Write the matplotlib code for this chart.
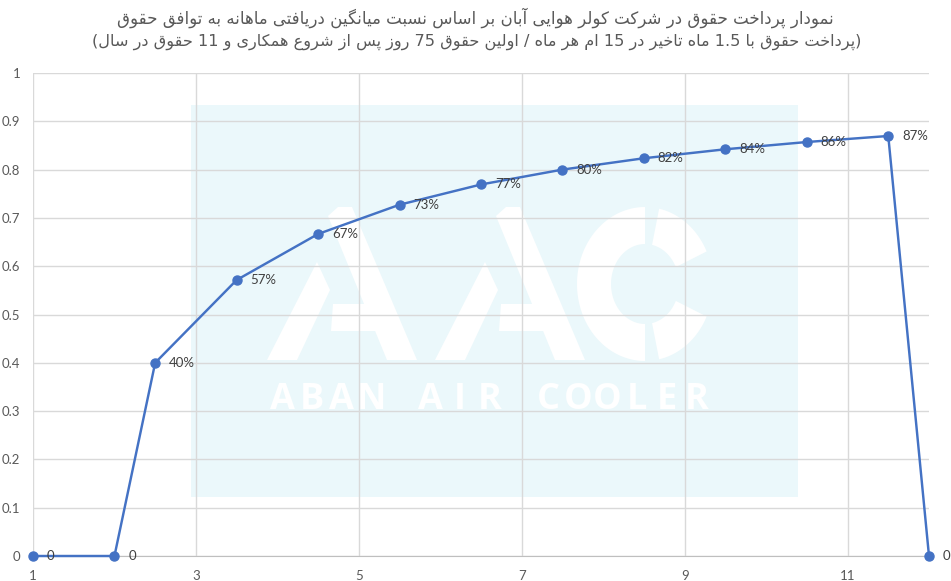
import numpy as np
import matplotlib
matplotlib.use("Agg")
import matplotlib.pyplot as plt
from matplotlib.patches import Polygon, Rectangle

# ---------------- data ----------------
x_vals = [1, 2, 2.5, 3.5, 4.5, 5.5, 6.5, 7.5, 8.5, 9.5, 10.5, 11.5, 12]
y_vals = [0, 0, 0.4, 0.5714, 0.6667, 0.7273, 0.7692, 0.8, 0.8235, 0.8421, 0.8571, 0.8696, 0]
point_labels = ["0", "0", "40%", "57%", "67%", "73%", "77%", "80%", "82%", "84%", "86%", "87%", "0"]
x_ticks = [1, 3, 5, 7, 9, 11]
y_ticks = [0, 0.1, 0.2, 0.3, 0.4, 0.5, 0.6, 0.7, 0.8, 0.9, 1]
y_tick_labels = ["0", "0.1", "0.2", "0.3", "0.4", "0.5", "0.6", "0.7", "0.8", "0.9", "1"]
title_line1 = "نمودار پرداخت حقوق در شرکت کولر هوایی آبان بر اساس نسبت میانگین دریافتی ماهانه به توافق حقوق"
title_line2 = "پرداخت حقوق با 1.5 ماه تاخیر در 15 ام هر ماه / اولین حقوق 75 روز پس از شروع همکاری و 11 حقوق در سال"
watermark_text = "ABAN AIR COOLER"

# ---------------- simple Arabic/Persian shaping ----------------
FORMS = {
    '\u0627': ('\uFE8D', '\uFE8E'), '\u0622': ('\uFE81', '\uFE82'),
    '\u062F': ('\uFEA9', '\uFEAA'), '\u0630': ('\uFEAB', '\uFEAC'),
    '\u0631': ('\uFEAD', '\uFEAE'), '\u0632': ('\uFEAF', '\uFEB0'),
    '\u0698': ('\uFB8A', '\uFB8B'), '\u0648': ('\uFEED', '\uFEEE'),
    '\u0628': ('\uFE8F', '\uFE90', '\uFE91', '\uFE92'),
    '\u067E': ('\uFB56', '\uFB57', '\uFB58', '\uFB59'),
    '\u062A': ('\uFE95', '\uFE96', '\uFE97', '\uFE98'),
    '\u062B': ('\uFE99', '\uFE9A', '\uFE9B', '\uFE9C'),
    '\u062C': ('\uFE9D', '\uFE9E', '\uFE9F', '\uFEA0'),
    '\u0686': ('\uFB7A', '\uFB7B', '\uFB7C', '\uFB7D'),
    '\u062D': ('\uFEA1', '\uFEA2', '\uFEA3', '\uFEA4'),
    '\u062E': ('\uFEA5', '\uFEA6', '\uFEA7', '\uFEA8'),
    '\u0633': ('\uFEB1', '\uFEB2', '\uFEB3', '\uFEB4'),
    '\u0634': ('\uFEB5', '\uFEB6', '\uFEB7', '\uFEB8'),
    '\u0635': ('\uFEB9', '\uFEBA', '\uFEBB', '\uFEBC'),
    '\u0636': ('\uFEBD', '\uFEBE', '\uFEBF', '\uFEC0'),
    '\u0637': ('\uFEC1', '\uFEC2', '\uFEC3', '\uFEC4'),
    '\u0638': ('\uFEC5', '\uFEC6', '\uFEC7', '\uFEC8'),
    '\u0639': ('\uFEC9', '\uFECA', '\uFECB', '\uFECC'),
    '\u063A': ('\uFECD', '\uFECE', '\uFECF', '\uFED0'),
    '\u0641': ('\uFED1', '\uFED2', '\uFED3', '\uFED4'),
    '\u0642': ('\uFED5', '\uFED6', '\uFED7', '\uFED8'),
    '\u06A9': ('\uFB8E', '\uFB8F', '\uFB90', '\uFB91'),
    '\u06AF': ('\uFB92', '\uFB93', '\uFB94', '\uFB95'),
    '\u0644': ('\uFEDD', '\uFEDE', '\uFEDF', '\uFEE0'),
    '\u0645': ('\uFEE1', '\uFEE2', '\uFEE3', '\uFEE4'),
    '\u0646': ('\uFEE5', '\uFEE6', '\uFEE7', '\uFEE8'),
    '\u0647': ('\uFEE9', '\uFEEA', '\uFEEB', '\uFEEC'),
    '\u06CC': ('\uFBFC', '\uFBFD', '\uFBFE', '\uFBFF'),
}


def shape_word(w):
    out = []
    n = len(w)
    for i, c in enumerate(w):
        if c not in FORMS:
            out.append(c)
            continue
        f = FORMS[c]
        jp = i > 0 and w[i - 1] in FORMS and len(FORMS[w[i - 1]]) == 4
        jn = i < n - 1 and len(f) == 4 and w[i + 1] in FORMS
        if jp and jn:
            out.append(f[3])
        elif jp:
            out.append(f[1])
        elif jn:
            out.append(f[2])
        else:
            out.append(f[0])
    return "".join(out)


def visual(line):
    toks = []
    for t in line.split(" "):
        if any(ch in FORMS for ch in t):
            toks.append(shape_word(t)[::-1])
        else:
            toks.append(t)
    return " ".join(toks[::-1])


# ---------------- figure ----------------
W, H = 951, 581
fig = plt.figure(figsize=(W / 100, H / 100), dpi=100)
fig.patch.set_facecolor("white")

# watermark layer (pixel coordinates)
wm = fig.add_axes([0, 0, 1, 1], zorder=0)
wm.set_xlim(0, W)
wm.set_ylim(H, 0)
wm.axis("off")
wm.add_patch(Rectangle((191, 105), 607, 392, facecolor="#EBF8FB", edgecolor="none"))
wc = "white"
for dx in (0, 168):
    wm.add_patch(Polygon([(328 + dx, 216), (338 + dx, 207), (352 + dx, 207), (417 + dx, 360), (387 + dx, 360)],
                         closed=True, facecolor=wc, edgecolor="none"))
    wm.add_patch(Polygon([(317 + dx, 262), (330 + dx, 290), (297 + dx, 360), (267 + dx, 360)],
                         closed=True, facecolor=wc, edgecolor="none"))
    wm.add_patch(Polygon([(333 + dx, 304), (388 + dx, 304), (398 + dx, 331), (331 + dx, 331)],
                         closed=True, facecolor=wc, edgecolor="none"))


def ring(a0, a1, cx=645, cy=284, rxo=68, ryo=77, rxi=34, ryi=40):
    t = np.radians(np.linspace(a0, a1, 60))
    outer = np.c_[cx + rxo * np.cos(t), cy - ryo * np.sin(t)]
    inner = np.c_[cx + rxi * np.cos(t[::-1]), cy - ryi * np.sin(t[::-1])]
    return np.vstack([outer, inner])


for a0, a1 in [(90, 270), (25, 78), (-78, -25)]:
    wm.add_patch(Polygon(ring(a0, a1), closed=True, facecolor=wc, edgecolor="none"))

n = len(watermark_text)
for i, ch in enumerate(watermark_text):
    wm.text(268 + 14.8 + (711 - 268 - 29.6) / (n - 1) * i, 400, ch, color=wc, fontsize=26,
            fontweight="bold", family="Open Sans", ha="center", va="center")

# main chart
ax = fig.add_axes([33 / W, 25 / H, (929 - 33) / W, (556 - 73) / H], zorder=1)
ax.patch.set_alpha(0)
ax.set_xlim(1, 12)
ax.set_ylim(0, 1)
ax.set_xticks(x_ticks)
ax.set_yticks(y_ticks)
ax.set_yticklabels(y_tick_labels)
ax.grid(True, color="#D9D9D9", linewidth=1)
ax.set_axisbelow(True)
for s in ("top", "right", "left"):
    ax.spines[s].set_visible(False)
ax.spines["bottom"].set_color("#BFBFBF")
ax.tick_params(length=0, labelcolor="#595959", labelsize=9.5)
ax.tick_params(axis="y", pad=9)
ax.tick_params(axis="x", pad=10)
for lab in ax.get_xticklabels() + ax.get_yticklabels():
    lab.set_family("Lato")

ax.plot(x_vals, y_vals, color="#4472C4", linewidth=1.75, marker="o", markersize=6.5,
        clip_on=False, zorder=3)
for xv, yv, lb in zip(x_vals, y_vals, point_labels):
    ax.annotate(lb, (xv, yv), xytext=(10, 0), textcoords="offset points", ha="left", va="center",
                fontsize=9.5, color="#404040", family="Lato", annotation_clip=False)

fig.text(475, H - 18, visual(title_line1), transform=None, ha="center", va="center",
         fontsize=12, color="#595959", family="DejaVu Sans")
fig.text(477, H - 42, "(" + visual(title_line2) + ")", transform=None, ha="center", va="center",
         fontsize=11.6, color="#595959", family="DejaVu Sans")

fig.savefig("out.png", dpi=100, facecolor="white")
